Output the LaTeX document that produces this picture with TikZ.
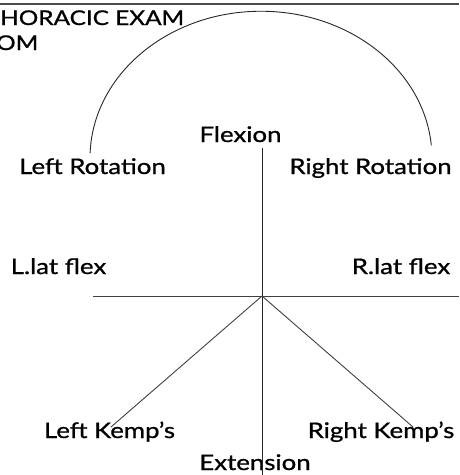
\documentclass[tikz,border=0pt]{standalone}
\usepackage{fontspec}
\setmainfont{Lato}[FakeStretch=1.2,FakeBold=0.9]
\begin{document}
\begin{tikzpicture}[x=1pt,y=-1pt,
  lbl/.style={inner sep=0pt, anchor=base, font=\fontsize{21.5}{24}\selectfont},
  ttl/.style={inner sep=0pt, anchor=base west, font=\fontsize{20.3}{24}\selectfont},
  axis/.style={draw=black!85, line width=0.9pt},
  rim/.style={draw=black!70, line width=1.2pt}]
\useasboundingbox (0,0) rectangle (459,475);
% header
\coordinate (hl) at (0,4);
\coordinate (hr) at (459,4);
\draw[rim] (hl) -- (hr);
\node[ttl] (title) at (0,25) {HORACIC EXAM};
\node[ttl] (title2) at (-4,50) {OM};
% labels
\node[lbl] (flex) at (240.5,142) {Flexion};
\node[lbl] (lrot) at (92.5,174) {Left Rotation};
\node[lbl] (rrot) at (370.5,174) {Right Rotation};
\node[lbl] (llat) at (58.5,274) {L.lat flex};
\node[lbl] (rlat) at (401,274) {R.lat flex};
\node[lbl] (lkemp) at (109.5,438) {Left Kemp’s};
\node[lbl] (rkemp) at (381,438) {Right Kemp’s};
\node[lbl] (ext) at (255,470) {Extension};
% axes
\coordinate (o) at (262,296);
\coordinate (vtop) at (262,148);
\coordinate (vbot) at (262,475);
\coordinate (hleft) at (93,296);
\coordinate (hright) at (459,296);
\coordinate (lk) at (111,427);
\coordinate (rk) at (413,427);
\draw[axis] (vtop) -- (vbot);
\draw[axis, draw=black!75] (hleft) -- (hright);
\draw[axis, draw=black!75] (o) -- (lk);
\draw[axis, draw=black!75] (o) -- (rk);
% rotation arc
\coordinate (arcstart) at (90.1,153.1);
\draw[axis] (arcstart) arc[start angle=182, end angle=355, x radius=171, y radius=147];
\end{tikzpicture}
\end{document}
